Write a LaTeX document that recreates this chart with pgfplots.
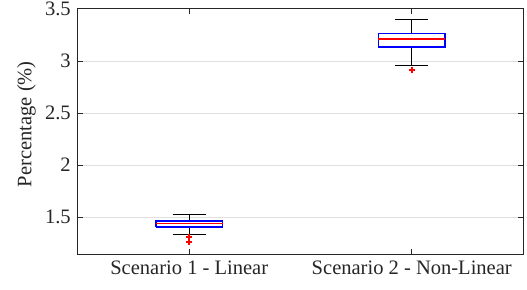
\documentclass[border=0pt]{standalone}
\usepackage{pgfplots}
\pgfplotsset{compat=1.18}
\usepackage{fontspec}
\setmainfont{Liberation Serif}
\definecolor{axgray}{rgb}{0.15,0.15,0.15}
\definecolor{mblue}{rgb}{0,0,1}
\definecolor{mred}{rgb}{1,0,0}
\begin{document}
\fontsize{10.3}{12}\selectfont
\begin{tikzpicture}
\begin{axis}[
  scale only axis,
  width=222.5bp, height=122.5bp,
  xmin=0.5, xmax=2.5,
  ymin=1.146, ymax=3.5,
  xtick={1,2},
  xticklabels={Scenario 1 - Linear, Scenario 2 - Non-Linear},
  ytick={1.5,2,2.5,3,3.5},
  yticklabels={1.5,2,2.5,3,3.5},
  ymajorgrids,
  grid style={line width=0.5bp, color=black!12},
  tick align=inside,
  major tick length=2.5bp,
  axis line style={axgray, line width=0.5bp},
  tick style={axgray, line width=0.5bp},
  ticklabel style={text=axgray},
  /pgf/number format/assume math mode=true,
  ylabel={Percentage (\%)},
  ylabel style={at={(axis description cs:-0.1157,0.53)}, anchor=center, text=axgray},
  every axis plot/.append style={line width=0.5bp},
]
% Scenario 1 whiskers and caps
\addplot[black] coordinates {(1,1.464) (1,1.529)};
\addplot[black] coordinates {(1,1.404) (1,1.334)};
\addplot[black] coordinates {(0.925,1.529) (1.075,1.529)};
\addplot[black] coordinates {(0.925,1.334) (1.075,1.334)};
% Scenario 1 box and median
\addplot[mblue, line width=0.75bp] coordinates {(0.85,1.404) (1.15,1.404) (1.15,1.464) (0.85,1.464) (0.85,1.404)};
\addplot[mred, line width=0.75bp] coordinates {(0.85,1.439) (1.15,1.439)};
% Scenario 2 whiskers and caps
\addplot[black] coordinates {(2,3.266) (2,3.397)};
\addplot[black] coordinates {(2,3.135) (2,2.958)};
\addplot[black] coordinates {(1.925,3.397) (2.075,3.397)};
\addplot[black] coordinates {(1.925,2.958) (2.075,2.958)};
% Scenario 2 box and median
\addplot[mblue, line width=0.75bp] coordinates {(1.85,3.135) (2.15,3.135) (2.15,3.266) (1.85,3.266) (1.85,3.135)};
\addplot[mred, line width=0.75bp] coordinates {(1.85,3.211) (2.15,3.211)};
% Outliers
\addplot[only marks, mark=+, mark size=1.6bp, mred, mark options={line width=0.75bp}]
  coordinates {(1,1.308) (1,1.262) (2,2.916)};
\end{axis}
\pgfresetboundingbox
\path (-39bp,-18bp) rectangle (224.5bp,127bp);
\end{tikzpicture}
\end{document}
